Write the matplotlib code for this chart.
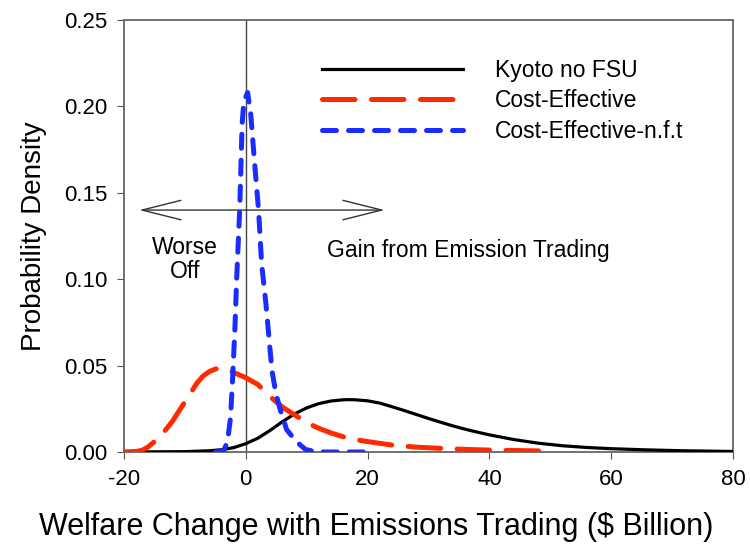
import matplotlib
matplotlib.use("Agg")
import matplotlib.pyplot as plt

plt.rcParams["font.family"] = ["Liberation Sans", "DejaVu Sans"]

# Kyoto no FSU (solid black)
kyoto_x = [-20, -10, -6, -4, -2, 0, 2, 4, 6, 8, 10, 12, 14, 16, 17, 18, 20, 22,
           24, 26, 28, 30, 32, 34, 36, 38, 40, 44, 48, 52, 56, 60, 66, 72, 80]
kyoto_y = [0.0, 0.0002, 0.0007, 0.0013, 0.0025, 0.0048, 0.008, 0.0125, 0.0175,
           0.022, 0.0255, 0.028, 0.0295, 0.0302, 0.0303, 0.0302, 0.0296, 0.0283,
           0.0262, 0.024, 0.0217, 0.0194, 0.0172, 0.0151, 0.0132, 0.0115, 0.0099,
           0.0072, 0.0051, 0.0036, 0.0026, 0.0019, 0.0012, 0.0007, 0.0003]

# Cost-Effective (red long dash)
ce_x = [-20, -18, -17, -16, -14, -12, -10, -8, -7, -6, -5, -4, -3, -2, -1, 0,
        2, 4, 6, 8, 10, 12, 14, 16, 18, 20, 24, 28, 32, 36, 40, 45, 50]
ce_y = [0.0, 0.0003, 0.001, 0.003, 0.009, 0.018, 0.029, 0.040, 0.044, 0.0465,
        0.048, 0.0485, 0.0475, 0.046, 0.0445, 0.043, 0.039, 0.032, 0.026, 0.0215,
        0.017, 0.0137, 0.011, 0.0088, 0.0072, 0.006, 0.004, 0.0028, 0.0021,
        0.0015, 0.0011, 0.0008, 0.0005]

# Cost-Effective-n.f.t (blue short dash)
nft_x = [-5, -4, -3.6, -3, -2.5, -2.2, -1.8, -1.5, -1, -0.6, -0.3, 0.3, 0.8,
         1.5, 2.1, 2.6, 3.3, 4.3, 5, 5.7, 6.7, 8.3, 9.8, 11, 13, 20]
nft_y = [0.0, 0.0003, 0.001, 0.006, 0.02, 0.04, 0.07, 0.1, 0.14, 0.19, 0.203,
         0.208, 0.196, 0.165, 0.14, 0.109, 0.086, 0.047, 0.033, 0.024, 0.013,
         0.006, 0.0015, 0.0005, 0.0, 0.0]

labels = ["Kyoto no FSU", "Cost-Effective", "Cost-Effective-n.f.t"]
xticks = [-20, 0, 20, 40, 60, 80]
xtick_labels = ["-20", "0", "20", "40", "60", "80"]
yticks = [0, 0.05, 0.10, 0.15, 0.20, 0.25]
ytick_labels = ["0.00", "0.05", "0.10", "0.15", "0.20", "0.25"]

fig = plt.figure(figsize=(7.5, 5.52), dpi=100)
ax = fig.add_axes([0.1653, 0.1812, 0.8120, 0.7826])

ax.axvline(0, color="#444444", lw=1.0, zorder=1)

ax.plot(kyoto_x, kyoto_y, color="black", lw=2.3, label=labels[0], zorder=3)
ax.plot(ce_x, ce_y, color="#ff2a00", lw=3.6, dashes=(6.5, 3.3),
        dash_capstyle="round", label=labels[1], zorder=4)
ax.plot(nft_x, nft_y, color="#1a2cff", lw=3.6, dashes=(2.8, 2.4),
        dash_capstyle="round", label=labels[2], zorder=5)

# double arrow
ax.annotate("", xy=(-17.5, 0.14), xytext=(22.8, 0.14),
            arrowprops=dict(arrowstyle="<->,head_length=2.8,head_width=0.7",
                            color="#333333", lw=1.0, shrinkA=0, shrinkB=0))
ax.text(-10, 0.1115, "Worse\nOff", ha="center", va="center", fontsize=16.5,
        linespacing=1.05)
ax.text(13.3, 0.1165, "Gain from Emission Trading", ha="left", va="center",
        fontsize=16.5)

ax.set_xlim(-20, 80)
ax.set_ylim(0, 0.25)
ax.set_xticks(xticks)
ax.set_xticklabels(xtick_labels)
ax.set_yticks(yticks)
ax.set_yticklabels(ytick_labels)
ax.tick_params(labelsize=16, direction="out", length=5, color="#555555",
               pad=7)
for s in ax.spines.values():
    s.set_color("#666666")
    s.set_linewidth(1.3)

ax.set_xlabel("Welfare Change with Emissions Trading ($ Billion)", fontsize=22,
              labelpad=16)
ax.xaxis.set_label_coords(0.414, -0.14)
ax.set_ylabel("Probability Density", fontsize=20, labelpad=12)

ax.legend(loc="upper left", bbox_to_anchor=(0.325, 0.91), frameon=False,
          fontsize=16.5, handlelength=6.15, handletextpad=1.4,
          labelspacing=0.33, borderpad=0, borderaxespad=0)

fig.savefig("out.png", dpi=100)
